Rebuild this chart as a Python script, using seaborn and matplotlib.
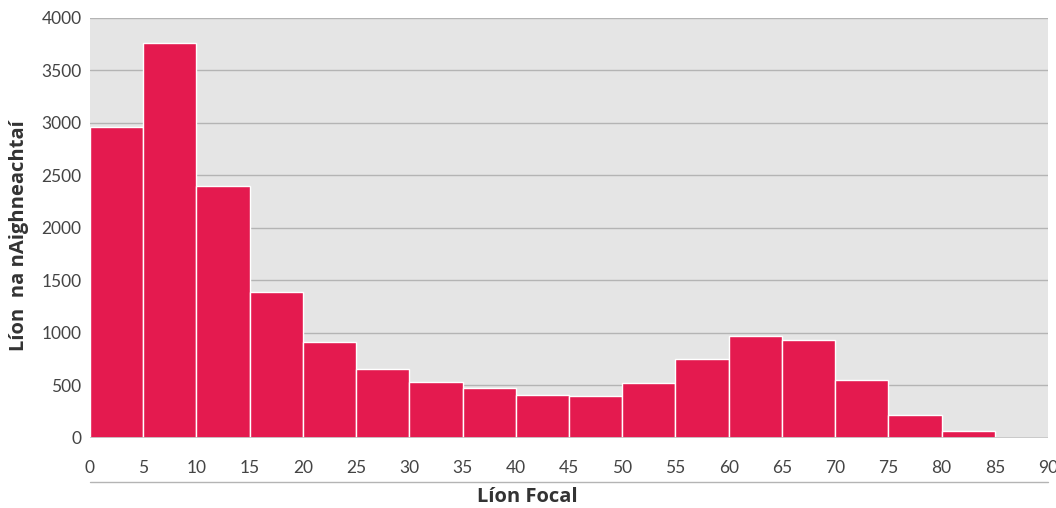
import seaborn as sns
import matplotlib.pyplot as plt
import numpy as np
import pandas as pd

# bin starts (width 5) and counts
bin_starts = [0, 5, 10, 15, 20, 25, 30, 35, 40, 45, 50, 55, 60, 65, 70, 75, 80]
counts = [2965, 3760, 2400, 1390, 918, 657, 530, 478, 410, 400, 525, 752, 972, 930, 550, 222, 62]
bin_edges = list(range(0, 90, 5))
x_ticks = list(range(0, 95, 5))
y_ticks = [0, 500, 1000, 1500, 2000, 2500, 3000, 3500, 4000]

df = pd.DataFrame({'words': np.array(bin_starts) + 2.5, 'n': counts})

sns.set_style('ticks')
plt.rcParams['font.family'] = ['Lato', 'DejaVu Sans']

fig = plt.figure(figsize=(10.56, 5.08), dpi=100)
ax = fig.add_axes([0.0852, 0.1378, 0.9072, 0.8268])
ax.set_facecolor('#e5e5e5')

sns.histplot(data=df, x='words', weights='n', bins=bin_edges,
             color='#e41a4f', alpha=1, edgecolor='white', linewidth=1, ax=ax, zorder=3)

ax.set_xlim(0, 90)
ax.set_ylim(0, 4000)
ax.set_xticks(x_ticks)
ax.set_yticks(y_ticks)
ax.grid(axis='y', color='#b4b4b4', linewidth=1, zorder=0)
ax.set_axisbelow(True)
ax.tick_params(length=0, labelsize=12.5, labelcolor='#444444')
ax.tick_params(axis='x', pad=16)
ax.tick_params(axis='y', pad=6)
for s in ax.spines.values():
    s.set_visible(False)
ax.axhline(0, color='#c8c8c8', linewidth=2, zorder=4)

# line under the x tick labels
ax.plot([0, 1], [-0.105, -0.105], transform=ax.transAxes, clip_on=False,
        color='#b4b4b4', linewidth=1)

lab_font = dict(fontsize=14.5, fontweight='bold', color='#333333', family=['Open Sans', 'DejaVu Sans'])
ax.set_xlabel('Líon Focal', **lab_font)
ax.xaxis.set_label_coords(0.457, -0.117)
ax.set_ylabel('Líon  na nAighneachtaí', **lab_font)
ax.yaxis.set_label_coords(-0.064, 0.481)

fig.savefig('out.png', dpi=100)
